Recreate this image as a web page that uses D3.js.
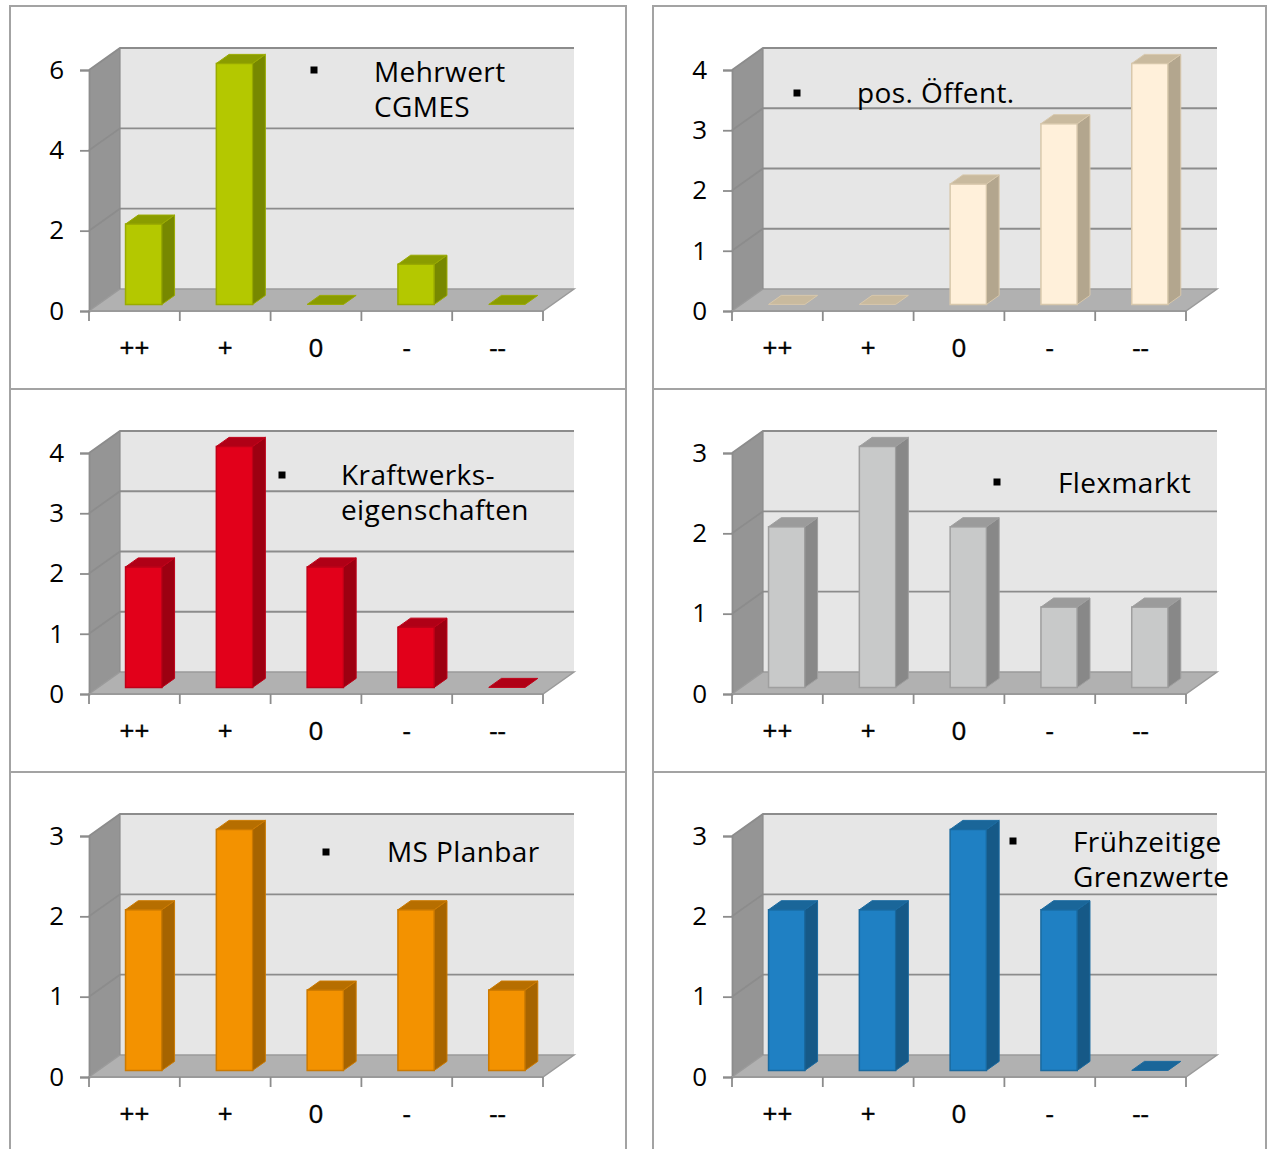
<!DOCTYPE html>
<html>
<head>
<meta charset="utf-8">
<script src="https://cdn.jsdelivr.net/npm/d3@7"></script>
<style>
  body { margin: 0; background: #fff; }
  text { font-family: "Open Sans", "Noto Sans", sans-serif; fill: #000; }
</style>
</head>
<body>
<div id="chart"></div>
<script>
(function () {
  // data
  const categories = ["++", "+", "0", "-", "--"];
  const titles = [
    ["Mehrwert", "CGMES"],
    ["pos. Öffent."],
    ["Kraftwerks-", "eigenschaften"],
    ["Flexmarkt"],
    ["MS Planbar"],
    ["Frühzeitige", "Grenzwerte"]
  ];
  const counts = [
    [2, 6, 0, 1, 0],
    [0, 0, 2, 3, 4],
    [2, 4, 2, 1, 0],
    [2, 3, 2, 1, 1],
    [2, 3, 1, 2, 1],
    [2, 2, 3, 2, 0]
  ];
  const yMax = [6, 4, 4, 3, 3, 3];
  const yStep = [2, 1, 1, 1, 1, 1];

  // styles per panel: front, side, top, outline
  const colors = [
    { front: "#b4c800", side: "#778800", top: "#8a9c00", line: "#9aab00" },
    { front: "#fff0da", side: "#b3a68e", top: "#c9ba9e", line: "#d8c8ac" },
    { front: "#e2001a", side: "#9c0011", top: "#b00016", line: "#c00018" },
    { front: "#c8c9c9", side: "#888888", top: "#9b9b9b", line: "#9f9f9f" },
    { front: "#f39200", side: "#a66400", top: "#b66e00", line: "#cc7a00" },
    { front: "#1f80c3", side: "#165987", top: "#1a6699", line: "#1a6aa0" }
  ];

  // layout of the 2x3 grid
  const colX = [0, 643];
  const rowY = [0, 383, 766];
  const L = 89, B = 311, W = 454, H = 241; // front plane of plot
  const dx = 31, dy = -22;                 // depth offset
  const f0 = 0.3, f1 = 0.71;               // bar depth range
  const legendPos = [
    { sx: 314, sy: 70, tx: 374, ty: 82 },
    { sx: 154, sy: 93, tx: 214, ty: 103 },
    { sx: 282, sy: 92, tx: 341, ty: 102 },
    { sx: 354, sy: 99, tx: 415, ty: 110 },
    { sx: 326, sy: 86, tx: 387, ty: 96 },
    { sx: 370, sy: 75, tx: 430, ty: 86 }
  ];

  const svg = d3.select("#chart").append("svg")
    .attr("width", 1268)
    .attr("height", 1149);

  svg.append("rect").attr("width", 1268).attr("height", 1149).attr("fill", "#fff");

  const pt = (x, y, f) => [x + f * dx, y + f * dy];
  const poly = (pts) => pts.map((p) => p.join(",")).join(" ");

  const x = d3.scaleBand().domain(categories).range([L, L + W]);

  counts.forEach((vals, i) => {
    const ox = colX[i % 2], oy = rowY[Math.floor(i / 2)];
    const c = colors[i];

    // panel frame
    svg.append("rect")
      .attr("x", 10 + ox)
      .attr("y", 6 + oy)
      .attr("width", 616 - (i % 2 ? 3 : 0))
      .attr("height", 383 + (oy > 700 ? 20 : 0))
      .attr("fill", "none")
      .attr("stroke", "#a3a3a3")
      .attr("stroke-width", 2);

    const g = svg.append("g").attr("transform", `translate(${ox},${oy})`);

    const y = d3.scaleLinear().domain([0, yMax[i]]).range([B, B - H]);
    const ticks = d3.range(0, yMax[i] + yStep[i] / 2, yStep[i]);

    // walls and floor
    g.append("polygon")
      .attr("points", poly([pt(L, B, 0), pt(L, B, 1), pt(L, B - H, 1), pt(L, B - H, 0)]))
      .attr("fill", "#959595");
    g.append("polygon")
      .attr("points", poly([pt(L, B, 1), pt(L + W, B, 1), pt(L + W, B - H, 1), pt(L, B - H, 1)]))
      .attr("fill", "#e6e6e6");
    g.append("polygon")
      .attr("points", poly([pt(L, B, 0), pt(L + W, B, 0), pt(L + W, B, 1), pt(L, B, 1)]))
      .attr("fill", "#b1b1b1")
      .attr("stroke", "#9a9a9a")
      .attr("stroke-width", 1.5);

    // gridlines on left and back walls
    g.selectAll(".grid")
      .data(ticks.filter((t) => t > 0))
      .join("polyline")
      .attr("points", (t) => poly([pt(L, y(t), 0), pt(L, y(t), 1), pt(L + W, y(t), 1)]))
      .attr("fill", "none")
      .attr("stroke", "#8c8c8c")
      .attr("stroke-width", 1.8);
    g.append("line")
      .attr("x1", pt(L, B, 1)[0]).attr("y1", pt(L, B, 1)[1])
      .attr("x2", pt(L, B - H, 1)[0]).attr("y2", pt(L, B - H, 1)[1])
      .attr("stroke", "#8c8c8c").attr("stroke-width", 1.2);

    // bars
    const bw = x.bandwidth() * 0.4;
    const bars = g.selectAll(".bar")
      .data(categories.map((k, j) => ({ k, v: vals[j] })))
      .join("g");

    bars.each(function (d) {
      const x0 = x(d.k) + (x.bandwidth() - bw) / 2, x1 = x0 + bw;
      const yt = y(d.v), yb = y(0);
      const s = d3.select(this);
      if (d.v > 0) {
        s.append("polygon")
          .attr("points", poly([pt(x0, yt, f0), pt(x1, yt, f0), pt(x1, yb, f0), pt(x0, yb, f0)]))
          .attr("fill", c.front).attr("stroke", c.line).attr("stroke-width", 1.5);
        s.append("polygon")
          .attr("points", poly([pt(x1, yt, f0), pt(x1, yt, f1), pt(x1, yb, f1), pt(x1, yb, f0)]))
          .attr("fill", c.side).attr("stroke", c.line).attr("stroke-width", 1);
      }
      s.append("polygon")
        .attr("points", poly([pt(x0, yt, f0), pt(x1, yt, f0), pt(x1, yt, f1), pt(x0, yt, f1)]))
        .attr("fill", c.top).attr("stroke", c.line).attr("stroke-width", 1);
    });

    // y axis
    g.append("g")
      .attr("transform", `translate(${L},0)`)
      .call(d3.axisLeft(y).tickValues(ticks).tickSize(9).tickPadding(16).tickFormat(d3.format("d")))
      .call((a) => a.select(".domain").attr("stroke", "#8c8c8c").attr("stroke-width", 1.8))
      .call((a) => a.selectAll(".tick line").attr("stroke", "#8c8c8c").attr("stroke-width", 1.8))
      .call((a) => a.selectAll(".tick text")
        .attr("font-size", "26px").attr("font-family", "Open Sans").attr("fill", "#000"));

    // x axis
    g.append("line")
      .attr("x1", L).attr("x2", L + W).attr("y1", B).attr("y2", B)
      .attr("stroke", "#9a9a9a").attr("stroke-width", 1.8);
    g.selectAll(".xtick")
      .data(categories.map((k) => x(k)).concat([L + W]))
      .join("line")
      .attr("x1", (d) => d).attr("x2", (d) => d)
      .attr("y1", B).attr("y2", B + 10)
      .attr("stroke", "#8c8c8c").attr("stroke-width", 1.8);
    g.append("g")
      .attr("transform", `translate(0,${B})`)
      .call(d3.axisBottom(x).tickSize(0).tickPadding(28))
      .call((a) => a.select(".domain").remove())
      .call((a) => a.selectAll(".tick text")
        .attr("font-size", "26px").attr("font-family", "Open Sans")
        .attr("fill", "#000").attr("stroke", "#000").attr("stroke-width", 0.4));

    // legend
    const lp = legendPos[i];
    g.append("rect")
      .attr("x", lp.sx - 3.5).attr("y", lp.sy - 3.5)
      .attr("width", 7).attr("height", 7)
      .attr("fill", "#000");
    g.append("text")
      .attr("x", lp.tx).attr("y", lp.ty)
      .attr("font-size", "28px")
      .attr("letter-spacing", "0.4px")
      .selectAll("tspan")
      .data(titles[i])
      .join("tspan")
      .attr("x", lp.tx)
      .attr("dy", (d, j) => (j === 0 ? 0 : 35))
      .text((d) => d);
  });
})();
</script>
</body>
</html>
